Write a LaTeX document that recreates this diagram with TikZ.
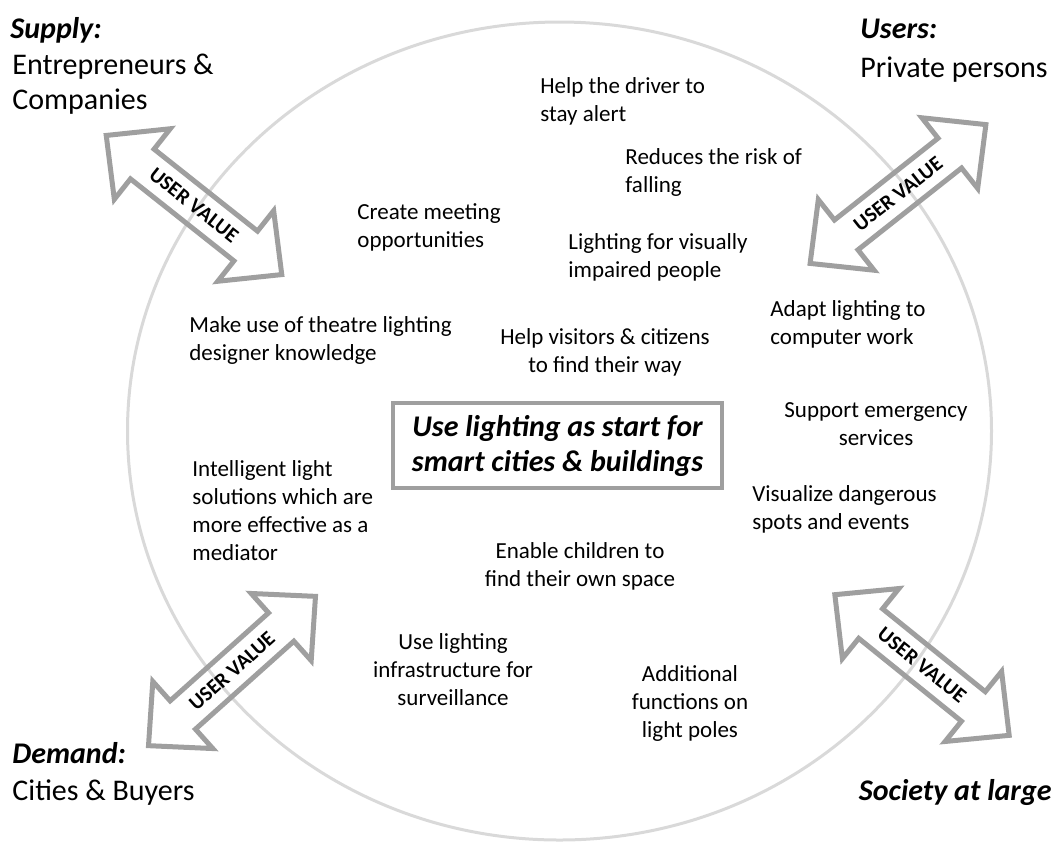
\documentclass[tikz,border=0pt]{standalone}
\usepackage{fontspec}
\setmainfont{Carlito}

\begin{document}
\begin{tikzpicture}[x=0.5pt, y=-0.5pt,
    texte/.style={font=\fontsize{11.5}{14}\selectfont, inner sep=0pt, anchor=base west, align=left},
    textec/.style={texte, anchor=base, align=center},
    titre/.style={font=\fontsize{15}{18}\selectfont\bfseries\itshape, inner sep=0pt, anchor=base west},
    soustitre/.style={font=\fontsize{15}{17.5}\selectfont, inner sep=0pt, anchor=base west, align=left},
    fleche/.style={draw=gray!75, line width=2.5pt, line join=miter},
    valeur/.style={font=\fontsize{10.5}{12}\selectfont\bfseries, inner sep=0pt}]
    \useasboundingbox (0,0) rectangle (1055,843);

    % Le grand cercle
    \draw[gray!30, line width=1.5pt] (559.5,431) ellipse [x radius=216pt, y radius=204.5pt];

    % Les quatre fleches doubles "user value"
    \foreach \cx/\cy/\ang/\nom in {194/205/-38.4/supply, 898/194/38.3/users,
                                   232/671/41.8/demand, 922/665/-38.9/society} {
        \begin{scope}[shift={(\cx,\cy)}, rotate=\ang]
            \draw[fleche] (-112,0) -- (-66,-45) -- (-66,-19) -- (66,-19) -- (66,-45)
                -- (112,0) -- (66,45) -- (66,19) -- (-66,19) -- (-66,45) -- cycle;
        \end{scope}
        \node[valeur, rotate=\ang] (uv-\nom) at (\cx,\cy) {USER VALUE};
    }

    % Les quatre acteurs
    \node[titre] (supply) at (10,38) {Supply:};
    \node[soustitre] (supply-txt) at (12,109) {Entrepreneurs \&\\Companies};
    \node[titre] (users) at (860,38) {Users:};
    \node[soustitre] (users-txt) at (860,77) {Private persons};
    \node[titre] (demand) at (12,763) {Demand:};
    \node[soustitre] (demand-txt) at (12,800) {Cities \& Buyers};
    \node[titre, anchor=base east] (society) at (1052,800) {Society at large};

    % Le cadre central
    \node[draw=gray!75, line width=2pt, fill=white, minimum width=164.5pt, minimum height=42.5pt,
          align=center, font=\fontsize{15}{17.5}\selectfont\bfseries\itshape] (centre) at (557.5,445.5)
          {Use lighting as start for\\smart cities \& buildings};

    % Les idees autour (ancre sur la ligne de base de la derniere ligne)
    \node[texte] (driver) at (540,121) {Help the driver to\\stay alert};
    \node[texte] (falling) at (625,192) {Reduces the risk of\\falling};
    \node[texte] (meeting) at (357,247) {Create meeting\\opportunities};
    \node[texte] (visually) at (568,277) {Lighting for visually\\impaired people};
    \node[texte] (computer) at (770,344) {Adapt lighting to\\computer work};
    \node[texte] (theatre) at (189,360) {Make use of theatre lighting\\designer knowledge};
    \node[textec] (visitors) at (605,372) {Help visitors \& citizens\\to find their way};
    \node[textec] (emergency) at (876,445) {Support emergency\\services};
    \node[texte] (mediator) at (192,560) {Intelligent light\\solutions which are\\more effective as a\\mediator};
    \node[texte] (dangerous) at (752,529) {Visualize dangerous\\spots and events};
    \node[textec] (children) at (580,586) {Enable children to\\find their own space};
    \node[textec] (surveillance) at (453,705) {Use lighting\\infrastructure for\\surveillance};
    \node[textec] (poles) at (690,737) {Additional\\functions on\\light poles};
\end{tikzpicture}
\end{document}
